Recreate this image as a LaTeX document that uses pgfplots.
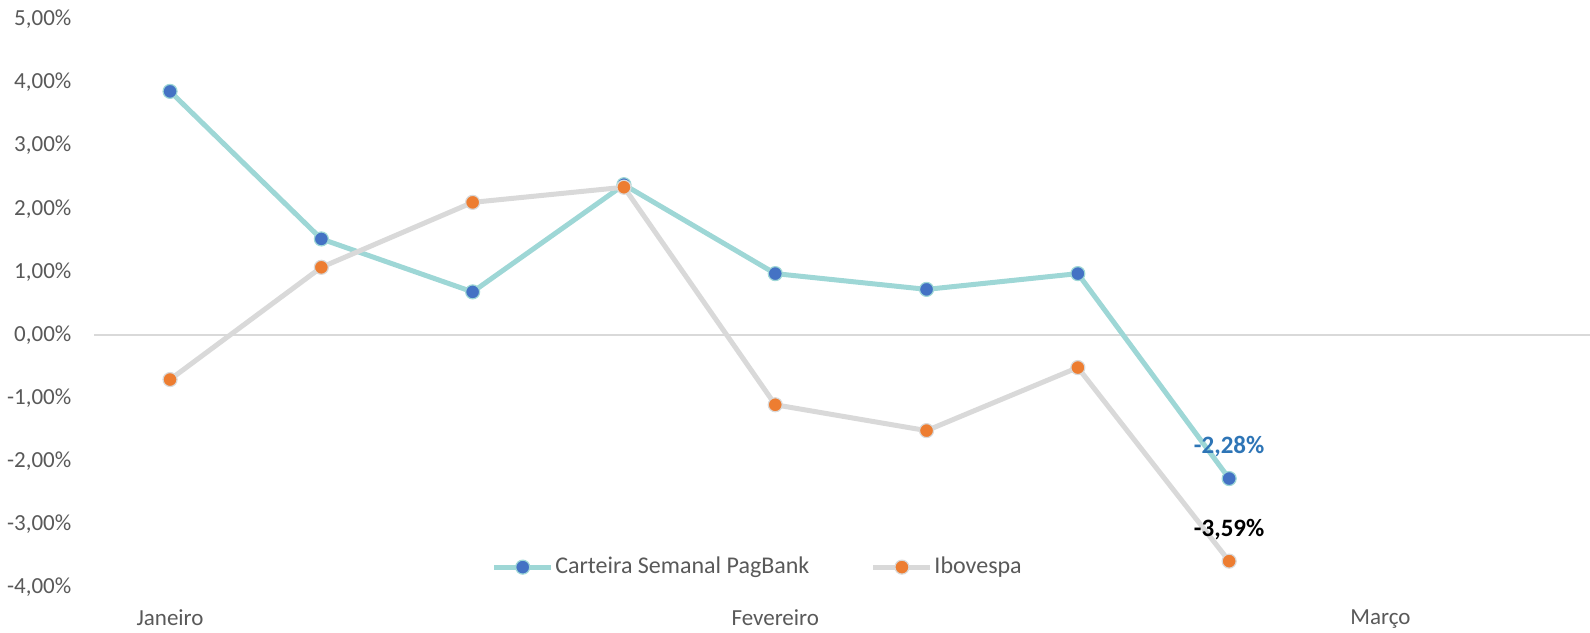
\documentclass[border=0pt]{standalone}
\usepackage{fontspec}
\setmainfont{Carlito}
\usepackage{pgfplots}
\pgfplotsset{compat=1.18}
\definecolor{carteira}{RGB}{158,215,214}
\definecolor{carteiramark}{RGB}{68,114,196}
\definecolor{ibov}{RGB}{217,217,217}
\definecolor{ibovmark}{RGB}{237,125,49}
\definecolor{txt}{RGB}{89,89,89}
\definecolor{lbl}{RGB}{46,117,182}

\begin{document}
\begin{tikzpicture}
\begin{axis}[
    at={(0,0)}, anchor=south west,
    scale only axis, width=747.8pt, height=283.75pt,
    xmin=-0.5, xmax=9.385, ymin=-4, ymax=5,
    axis line style={draw=none}, tick style={draw=none},
    xtick={0,4,8}, xticklabels={Janeiro,Fevereiro,Março},
    ytick={-4,-3,-2,-1,0,1,2,3,4,5},
    yticklabels={{-4,00\%},{-3,00\%},{-2,00\%},{-1,00\%},{0,00\%},{1,00\%},{2,00\%},{3,00\%},{4,00\%},{5,00\%}},
    ticklabel style={font=\fontsize{11.5}{13}\selectfont, text=txt},
    yticklabel style={xshift=-8pt},
    xticklabel style={yshift=-8pt},
    extra y ticks={0}, extra y tick labels={},
    extra y tick style={grid=major, major grid style={ibov, line width=1pt}},
    legend style={at={(0.4434,0.035)}, anchor=center, draw=none, fill=none,
        legend columns=2, font=\fontsize{12}{14}\selectfont, text=txt,
        /tikz/every even column/.append style={column sep=30pt},
        nodes={inner sep=0.8pt}},
    legend image code/.code={\draw[mark repeat=2, mark phase=2, #1]
        plot coordinates {(0cm,0cm) (0.5cm,0cm) (1cm,0cm)};},
    clip=false,
]
\addplot[carteira, line width=2.5pt, mark=*, mark size=3.5pt,
    mark options={fill=carteiramark, draw=carteira, line width=0.6pt}]
    coordinates {(0,3.86) (1,1.52) (2,0.68) (3,2.38) (4,0.97) (5,0.72) (6,0.97) (7,-2.28)};
\addplot[ibov, line width=2.5pt, mark=*, mark size=3.5pt,
    mark options={fill=ibovmark, draw=ibov, line width=0.6pt}]
    coordinates {(0,-0.71) (1,1.07) (2,2.10) (3,2.34) (4,-1.11) (5,-1.52) (6,-0.52) (7,-3.59)};
\addplot[draw=none, mark=none, forget plot,
    nodes near coords={-2,28\%},
    nodes near coords style={font=\bfseries\fontsize{12.5}{14}\selectfont, text=lbl, anchor=center, yshift=16pt}]
    coordinates {(7,-2.28)};
\addplot[draw=none, mark=none, forget plot,
    nodes near coords={-3,59\%},
    nodes near coords style={font=\bfseries\fontsize{12.5}{14}\selectfont, text=black, anchor=center, yshift=16pt}]
    coordinates {(7,-3.59)};
\legend{Carteira Semanal PagBank, Ibovespa}
\end{axis}
\pgfresetboundingbox
\path[use as bounding box] (-47.2pt,-22.5pt) rectangle (747.8pt,293.5pt);
\end{tikzpicture}
\end{document}
